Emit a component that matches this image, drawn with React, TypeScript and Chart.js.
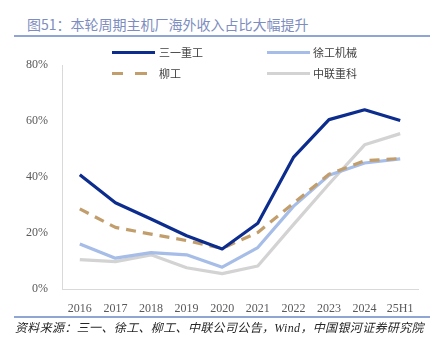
import React, { useEffect, useRef } from "react";
import { Chart, registerables } from "chart.js";
Chart.register(...registerables);

const categories = ["2016", "2017", "2018", "2019", "2020", "2021", "2022", "2023", "2024", "25H1"];
const sanyHeavy = [40.8, 30.8, 25.0, 19.0, 14.3, 23.5, 47.0, 60.5, 64.0, 60.2];
const xcmg = [16.1, 11.0, 13.0, 12.2, 7.8, 14.8, 29.5, 40.6, 45.0, 46.5];
const liugong = [28.6, 22.0, 19.6, 17.3, 14.5, 20.2, 30.6, 41.0, 45.8, 46.6];
const zoomlion = [10.5, 9.8, 12.2, 7.6, 5.5, 8.2, 23.0, 37.5, 51.5, 55.5];
const yTicks = [0, 20, 40, 60, 80];

const seriesNames = ["三一重工", "徐工机械", "柳工", "中联重科"];
const titleText = "图51：本轮周期主机厂海外收入占比大幅提升";
const sourceText = "资料来源：三一、徐工、柳工、中联公司公告，Wind，中国银河证券研究院";

const C_DARK = "#0C2C8E";
const C_LIGHT = "#A6BDE8";
const C_TAN = "#C29E6C";
const C_GRAY = "#D3D3D3";

export default function App() {
  const ref = useRef<HTMLCanvasElement>(null);
  useEffect(() => {
    document.body.style.margin = "0";
    const chart = new Chart(ref.current!, {
      type: "line",
      data: {
        labels: categories,
        datasets: [
          { label: seriesNames[0], data: sanyHeavy, borderColor: C_DARK, borderWidth: 3.2 },
          { label: seriesNames[2], data: liugong, borderColor: C_TAN, borderWidth: 3.2, borderDash: [10, 7] },
          { label: seriesNames[1], data: xcmg, borderColor: C_LIGHT, borderWidth: 3.2 },
          { label: seriesNames[3], data: zoomlion, borderColor: C_GRAY, borderWidth: 3.2 },
        ].map((d) => ({ ...d, pointRadius: 0, tension: 0, fill: false, borderJoinStyle: "round" as const })),
      },
      options: {
        responsive: false,
        animation: false,
        devicePixelRatio: 1,
        layout: { padding: { top: 24, right: 20, bottom: 0, left: 0 } },
        plugins: { legend: { display: false }, tooltip: { enabled: false } },
        scales: {
          x: {
            offset: true,
            grid: { display: false, drawTicks: false },
            border: { display: true, color: "#D9D9D9", width: 1 },
            ticks: { color: "#595959", padding: 13, font: { family: "'Liberation Serif', serif", size: 12 }, maxRotation: 0 },
            afterFit: (s: any) => { s.height = 32; },
          },
          y: {
            min: 0,
            max: 80,
            grid: { display: false, drawTicks: false },
            border: { display: true, color: "#D9D9D9", width: 1 },
            afterBuildTicks: (s: any) => { s.ticks = yTicks.map((v) => ({ value: v })); },
            ticks: {
              color: "#595959",
              padding: 14,
              font: { family: "'Liberation Serif', serif", size: 12 },
              callback: (v: any) => v + "%",
            },
            afterFit: (s: any) => { s.width = 62; },
          },
        },
      },
    });
    return () => chart.destroy();
  }, []);

  const legendText = (left: number, cy: number, text: string) => (
    <div style={{ position: "absolute", left, top: cy - 8, height: 16, lineHeight: "16px", fontSize: 11, color: "#404040", fontFamily: "'Noto Sans CJK SC', sans-serif", whiteSpace: "nowrap" }}>{text}</div>
  );
  const seg = (left: number, cy: number, width: number, color: string) => (
    <div style={{ position: "absolute", left, top: cy - 1.5, width, height: 3, background: color }} />
  );

  return (
    <div style={{ position: "relative", width: 438, height: 350, background: "#fff", overflow: "hidden" }}>
      <div style={{ position: "absolute", left: 27, top: 15, height: 18, lineHeight: "18px", fontSize: 14, color: "#7D8DBF", fontFamily: "'Noto Sans CJK SC', sans-serif", whiteSpace: "nowrap" }}>{titleText}</div>
      <div style={{ position: "absolute", left: 14, top: 35, width: 416, height: 2, background: "#8FA6D4" }} />
      <canvas ref={ref} width={438} height={280} style={{ position: "absolute", left: 0, top: 41, width: 438, height: 280 }} />
      {seg(112, 52, 43, C_DARK)}
      {legendText(159, 52, seriesNames[0])}
      {seg(267, 52, 43, C_LIGHT)}
      {legendText(313, 52, seriesNames[1])}
      {seg(112, 73, 11, C_TAN)}
      {seg(135, 73, 12, C_TAN)}
      {legendText(159, 73, seriesNames[2])}
      {seg(267, 73, 43, C_GRAY)}
      {legendText(313, 73, seriesNames[3])}
      <div style={{ position: "absolute", left: 14, top: 316, width: 416, height: 1.5, background: "#8FA6D4" }} />
      <div style={{ position: "absolute", left: 15, top: 320, height: 16, lineHeight: "16px", fontSize: 12, letterSpacing: "0.35px", fontStyle: "italic", color: "#262626", fontFamily: "'Liberation Serif', 'Noto Sans CJK SC', serif", whiteSpace: "nowrap" }}>{sourceText}</div>
    </div>
  );
}
